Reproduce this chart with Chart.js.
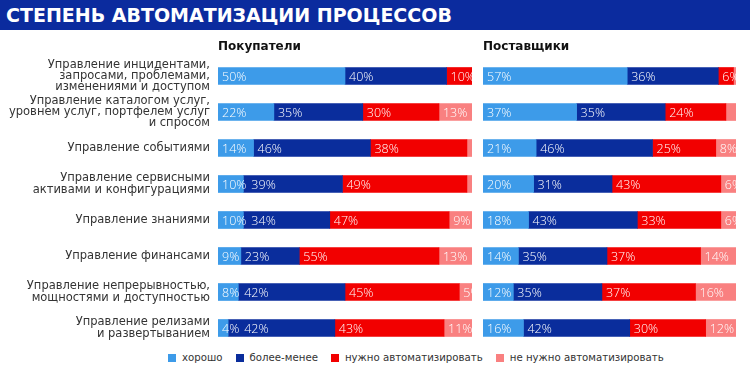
<!DOCTYPE html>
<html>
<head>
<meta charset="utf-8">
<script src="https://cdn.jsdelivr.net/npm/chart.js@4/dist/chart.umd.min.js"></script>
<style>
    body { margin: 0; background: #fff; font-family: "DejaVu Sans", sans-serif; }
    #page { position: relative; width: 750px; height: 374px; overflow: hidden; }
    #title {
        position: absolute; left: 0; top: 0; width: 744px; height: 30px; padding-left: 6px;
        background: #0b2b9e; color: #fff; font: bold 19px "DejaVu Sans", sans-serif; line-height: 30px;
    }
    canvas { position: absolute; }
    #buyers { left: 0; top: 30px; }
    #suppliers { left: 475px; top: 30px; }
    #legend { position: absolute; left: 168px; top: 352px; display: flex; font-size: 10.2px; color: #333; }
    #legend .item { display: flex; align-items: center; margin-right: 13px; }
    #legend .box { width: 8px; height: 8px; margin-right: 6px; }
</style>
</head>
<body>
<div id="page">
    <div id="title">СТЕПЕНЬ АВТОМАТИЗАЦИИ ПРОЦЕССОВ</div>
    <canvas id="buyers" width="475" height="316"></canvas>
    <canvas id="suppliers" width="275" height="316"></canvas>
    <div id="legend"></div>
</div>
<script>
const categories = [
    ['Управление инцидентами,', 'запросами, проблемами,', 'изменениями и доступом'],
    ['Управление каталогом услуг,', 'уровнем услуг, портфелем услуг', 'и спросом'],
    'Управление событиями',
    ['Управление сервисными', 'активами и конфигурациями'],
    'Управление знаниями',
    'Управление финансами',
    ['Управление непрерывностью,', 'мощностями и доступностью'],
    ['Управление релизами', 'и развертыванием']
];
const seriesNames = ['хорошо', 'более-менее', 'нужно автоматизировать', 'не нужно автоматизировать'];
const seriesColors = ['#3d9be9', '#0a2d9c', '#f20000', '#f98080'];

const buyersGood   = [50, 22, 14, 10, 10,  9,  8,  4];
const buyersSoSo   = [40, 35, 46, 39, 34, 23, 42, 42];
const buyersNeed   = [10, 30, 38, 49, 47, 55, 45, 43];
const buyersNoNeed = [ 0, 13,  2,  2,  9, 13,  5, 11];

const suppliersGood   = [57, 37, 21, 20, 18, 14, 12, 16];
const suppliersSoSo   = [36, 35, 46, 31, 43, 35, 35, 42];
const suppliersNeed   = [ 6, 24, 25, 43, 33, 37, 37, 30];
const suppliersNoNeed = [ 1,  4,  8,  6,  6, 14, 16, 12];

// white % text at the left of each segment, small ones skipped, pushed right if they would overlap
const barLabels = {
    id: 'barLabels',
    afterDatasetsDraw(chart) {
        const ctx = chart.ctx;
        ctx.save();
        ctx.font = '300 12.5px "Open Sans", sans-serif';
        ctx.fillStyle = '#fff';
        ctx.textAlign = 'left';
        ctx.textBaseline = 'middle';
        const rowEnd = [];
        chart.data.datasets.forEach((ds, i) => {
            chart.getDatasetMeta(i).data.forEach((bar, j) => {
                const v = ds.data[j];
                if (v < 4 || (i === 3 && v < 5)) return;
                const txt = v + '%';
                const x = Math.max(Math.min(bar.x, bar.base) + 4, (rowEnd[j] || 0) + 5);
                ctx.fillText(txt, x, bar.y + 1);
                rowEnd[j] = x + ctx.measureText(txt).width;
            });
        });
        ctx.restore();
    }
};

function makeChart(id, heading, series, showLabels, padding) {
    return new Chart(document.getElementById(id), {
        type: 'bar',
        data: {
            labels: categories,
            datasets: series.map((data, i) => ({
                label: seriesNames[i], data, backgroundColor: seriesColors[i],
                barThickness: 17, borderWidth: 0
            }))
        },
        options: {
            responsive: false, animation: false, indexAxis: 'y',
            layout: { padding },
            plugins: { legend: { display: false }, tooltip: { enabled: false } },
            scales: {
                x: {
                    stacked: true, min: 0, max: 100, position: 'top',
                    grid: { display: false }, border: { display: false }, ticks: { display: false },
                    title: {
                        display: true, text: heading, align: 'start', color: '#111',
                        font: { family: '"DejaVu Sans", sans-serif', size: 12, weight: 'bold' },
                        padding: { top: 10, bottom: 0 }
                    },
                    afterFit: s => { s.height = 28; }
                },
                y: {
                    stacked: true, display: showLabels,
                    grid: { display: false, drawTicks: false }, border: { display: false },
                    ticks: {
                        color: '#333', padding: 8, autoSkip: false,
                        font: { family: '"DejaVu Sans", sans-serif', size: 11.5, lineHeight: 0.96 }
                    },
                    afterFit: s => {
                        if (showLabels) s.width = 218;
                        s.paddingTop = 0;
                        s.paddingBottom = 0;
                    }
                }
            }
        },
        plugins: [barLabels]
    });
}

makeChart('buyers', 'Покупатели', [buyersGood, buyersSoSo, buyersNeed, buyersNoNeed], true,
    { left: 0, right: 3, top: 0, bottom: 0 });
makeChart('suppliers', 'Поставщики', [suppliersGood, suppliersSoSo, suppliersNeed, suppliersNoNeed], false,
    { left: 8, right: 14, top: 0, bottom: 0 });

const legend = document.getElementById('legend');
seriesNames.forEach((name, i) => {
    const item = document.createElement('div');
    item.className = 'item';
    item.innerHTML = '<span class="box" style="background:' + seriesColors[i] + '"></span>' + name;
    legend.appendChild(item);
});
</script>
</body>
</html>
